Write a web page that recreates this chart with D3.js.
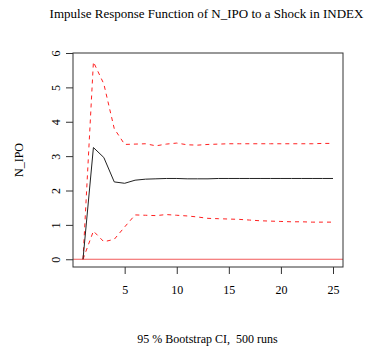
<!DOCTYPE html>
<html lang="en">
<head>
  <meta charset="UTF-8">
  <title>Impulse Response Function of N_IPO to a Shock in INDEX</title>
  <script src="https://d3js.org/d3.v7.min.js"></script>
  <style>
    body
    {
      margin: 0;
      padding: 0;
      background-color: #fff;
    }

    svg text
    {
      font-family: "Liberation Serif", "DejaVu Serif", serif;
      fill: #000;
    }
  </style>
</head>
<body>
  <svg width="368" height="348"></svg>
  <script>
    const width = 368;
    const height = 348;

    // horizon steps
    const steps = d3.range(1, 26);
    // point estimate of the response
    const irf = [0, 3.25, 2.96, 2.25, 2.21, 2.30, 2.33, 2.34, 2.35, 2.35, 2.34, 2.34, 2.34,
                 2.35, 2.35, 2.35, 2.35, 2.35, 2.35, 2.35, 2.35, 2.35, 2.35, 2.35, 2.35];
    // bootstrap band
    const upper = [0, 5.74, 5.10, 3.80, 3.34, 3.35, 3.36, 3.30, 3.35, 3.38, 3.33, 3.32, 3.34,
                   3.35, 3.36, 3.36, 3.36, 3.36, 3.36, 3.36, 3.36, 3.36, 3.36, 3.37, 3.37];
    const lower = [0, 0.82, 0.51, 0.58, 0.94, 1.29, 1.28, 1.27, 1.30, 1.28, 1.26, 1.23, 1.19,
                   1.18, 1.17, 1.16, 1.14, 1.12, 1.11, 1.10, 1.09, 1.09, 1.08, 1.08, 1.08];
    const xTicks = [5, 10, 15, 20, 25];
    const yTicks = [0, 1, 2, 3, 4, 5, 6];

    const margin = { top: 53, right: 25, bottom: 81, left: 73 };
    const serif = "'Liberation Serif', 'DejaVu Serif', serif";

    const svg = d3.select("svg");

    const x = d3.scaleLinear()
      .domain([0.04, 25.96])
      .range([margin.left, width - margin.right]);

    const y = d3.scaleLinear()
      .domain([-0.225, 6])
      .range([height - margin.bottom, margin.top]);

    // zero line
    svg.append("line")
      .attr("x1", margin.left)
      .attr("x2", width - margin.right)
      .attr("y1", y(0))
      .attr("y2", y(0))
      .attr("stroke", "#f25a5a")
      .attr("stroke-width", 1);

    const line = d3.line()
      .x((d, i) => x(steps[i]))
      .y(d => y(d));

    [upper, lower].forEach(band => {
      svg.append("path")
        .datum(band)
        .attr("fill", "none")
        .attr("stroke", "#ff2020")
        .attr("stroke-width", 1)
        .attr("stroke-dasharray", "4,4")
        .attr("d", line);
    });

    svg.append("path")
      .datum(irf)
      .attr("fill", "none")
      .attr("stroke", "#222")
      .attr("stroke-width", 1)
      .attr("d", line);

    // plot box
    svg.append("rect")
      .attr("x", margin.left)
      .attr("y", margin.top)
      .attr("width", width - margin.right - margin.left)
      .attr("height", height - margin.bottom - margin.top)
      .attr("fill", "none")
      .attr("stroke", "#333")
      .attr("stroke-width", 1);

    // x axis
    const xAxis = svg.append("g")
      .attr("transform", `translate(0,${height - margin.bottom})`)
      .call(d3.axisBottom(x).tickValues(xTicks).tickSize(7).tickPadding(11))
      .attr("font-family", serif)
      .attr("font-size", 12);
    xAxis.select(".domain").remove();
    xAxis.selectAll("line").attr("stroke", "#333");

    // y axis, labels turned like base graphics
    const yAxis = svg.append("g")
      .attr("transform", `translate(${margin.left},0)`)
      .call(d3.axisLeft(y).tickValues(yTicks).tickSize(7).tickFormat(d3.format("d")))
      .attr("font-family", serif)
      .attr("font-size", 12);
    yAxis.select(".domain").remove();
    yAxis.selectAll("line").attr("stroke", "#333");
    yAxis.selectAll("text")
      .attr("x", null)
      .attr("dy", null)
      .attr("text-anchor", "middle")
      .attr("transform", "translate(-17,0) rotate(-90)")
      .attr("dominant-baseline", "central");

    svg.append("text")
      .attr("x", 206.5)
      .attr("y", 18)
      .attr("text-anchor", "middle")
      .attr("font-size", 13)
      .text("Impulse Response Function of N_IPO to a Shock in INDEX");

    svg.append("text")
      .attr("transform", `translate(23,${(margin.top + height - margin.bottom) / 2}) rotate(-90)`)
      .attr("text-anchor", "middle")
      .attr("font-size", 12)
      .text("N_IPO");

    svg.append("text")
      .attr("x", 207.5)
      .attr("y", 343)
      .attr("text-anchor", "middle")
      .attr("font-size", 12)
      .style("white-space", "pre")
      .text("95 % Bootstrap CI,  500 runs");
  </script>
</body>
</html>
